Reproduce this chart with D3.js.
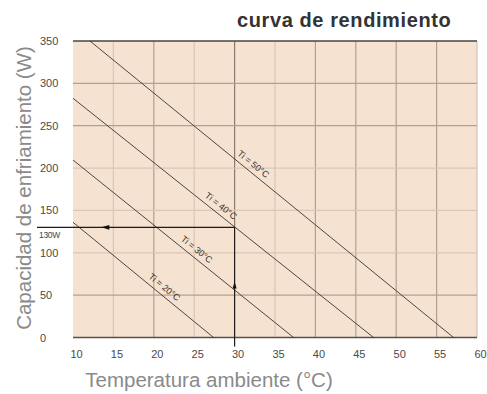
<!DOCTYPE html>
<html>
<head>
<meta charset="utf-8">
<script src="https://cdn.jsdelivr.net/npm/d3@7"></script>
<style>
  html, body { margin: 0; padding: 0; background: #ffffff; }
  svg { display: block; font-family: "Liberation Sans", Arial, sans-serif; }
</style>
</head>
<body>
<svg id="chart" width="487" height="394"></svg>
<script>
// Performance curves: cooling capacity vs. ambient temperature for each internal temperature Ti
const seriesNames = ["Ti = 20°C", "Ti = 30°C", "Ti = 40°C", "Ti = 50°C"];
const startTemp  = [10, 10, 10, 12.1];        // °C where each curve enters the chart
const startPower = [136, 209.5, 282.4, 350];  // W at that temperature
const endTemp    = [27.4, 37.3, 47.2, 57.1];  // °C where capacity reaches 0 W
const endPower   = [0, 0, 0, 0];

// Worked example: 30 °C ambient on the Ti = 40 °C curve
const exampleTemp = 30;
const examplePower = 130;
const exampleLabel = "130W";

const xTicks = [10, 15, 20, 25, 30, 35, 40, 45, 50, 55, 60];
const yTicks = [0, 50, 100, 150, 200, 250, 300, 350];

const titleText = "curva de rendimiento";
const xTitle = "Temperatura ambiente (°C)";
const yTitle = "Capacidad de enfriamiento (W)";

const svg = d3.select("#chart");
const x = d3.scaleLinear().domain([10, 60]).range([73, 477]);
const y = d3.scaleLinear().domain([0, 350]).range([337.5, 41]);

// plot background
svg.append("rect")
  .attr("x", x(10)).attr("y", y(350))
  .attr("width", x(60) - x(10)).attr("height", y(0) - y(350))
  .attr("fill", "#f6e2d1");

// grid
const lightX = new Set([15, 25, 35]);
const lightY = new Set([100, 150, 200]);
svg.append("g").selectAll("line").data(xTicks.filter(t => t > 10 && t < 60 && t !== exampleTemp)).join("line")
  .attr("x1", d => x(d)).attr("x2", d => x(d))
  .attr("y1", y(350)).attr("y2", y(0))
  .attr("stroke", d => lightX.has(d) ? "#dcc6b4" : "#b5a08e")
  .attr("stroke-width", 1.2);
svg.append("line")
  .attr("x1", x(60)).attr("x2", x(60)).attr("y1", y(350)).attr("y2", y(0))
  .attr("stroke", "#d8c3b1").attr("stroke-width", 1.2);
svg.append("line")
  .attr("x1", x(exampleTemp)).attr("x2", x(exampleTemp)).attr("y1", y(350)).attr("y2", y(examplePower))
  .attr("stroke", "#8c7a6c").attr("stroke-width", 1.2);
svg.append("g").selectAll("line").data(yTicks.filter(t => t > 0 && t < 350)).join("line")
  .attr("x1", x(10)).attr("x2", x(60))
  .attr("y1", d => y(d)).attr("y2", d => y(d))
  .attr("stroke", d => lightY.has(d) ? "#dcc6b4" : "#b5a08e")
  .attr("stroke-width", 1.2);

// top and bottom frame
svg.append("line").attr("x1", x(10)).attr("x2", x(60)).attr("y1", y(350)).attr("y2", y(350))
  .attr("stroke", "#4a4440").attr("stroke-width", 1.4);
svg.append("line").attr("x1", x(10)).attr("x2", x(60)).attr("y1", y(0)).attr("y2", y(0))
  .attr("stroke", "#5a504a").attr("stroke-width", 1.4);

// curves
const curves = seriesNames.map((name, i) => ({
  name,
  pts: [[startTemp[i], startPower[i]], [endTemp[i], endPower[i]]]
}));
const line = d3.line().x(d => x(d[0])).y(d => y(d[1]));
svg.append("g").selectAll("path").data(curves).join("path")
  .attr("d", d => line(d.pts))
  .attr("fill", "none").attr("stroke", "#3a3430").attr("stroke-width", 0.9);

// curve labels, set along each line and lifted slightly above it
const labelAlong = [20.7, 24.7, 27.7, 31.7];
svg.append("g").selectAll("text").data(curves).join("text")
  .attr("transform", (d, i) => {
    const [[t0, p0], [t1, p1]] = d.pts;
    const dx = x(t1) - x(t0), dy = y(p1) - y(p0);
    const len = Math.hypot(dx, dy);
    const f = (labelAlong[i] - t0) / (t1 - t0);
    const cx = x(t0) + f * dx + 8 * dy / len;
    const cy = y(p0) + f * dy - 8 * dx / len;
    const ang = Math.atan2(dy, dx) * 180 / Math.PI;
    return `translate(${cx},${cy}) rotate(${ang})`;
  })
  .attr("text-anchor", "middle").attr("dy", "0.35em")
  .attr("font-size", 9).attr("fill", "#3a3430")
  .text(d => d.name);

// worked example: horizontal read-out to the axis and vertical line from 30 °C
svg.append("line")
  .attr("x1", x(exampleTemp)).attr("x2", 37)
  .attr("y1", y(examplePower)).attr("y2", y(examplePower))
  .attr("stroke", "#1e1a18").attr("stroke-width", 1.2);
svg.append("line")
  .attr("x1", x(exampleTemp)).attr("x2", x(exampleTemp))
  .attr("y1", y(examplePower)).attr("y2", y(0) + 9)
  .attr("stroke", "#1e1a18").attr("stroke-width", 1.2);
// arrowheads
const ax = x(14), ay = y(examplePower);
svg.append("path").attr("d", `M${ax - 4},${ay} L${ax + 4},${ay - 2.4} L${ax + 4},${ay + 2.4} Z`).attr("fill", "#111");
const ux = x(exampleTemp), uy = y(62);
svg.append("path").attr("d", `M${ux},${uy - 3.5} L${ux - 2},${uy + 3.5} L${ux + 2},${uy + 3.5} Z`).attr("fill", "#111");

svg.append("text").attr("x", 39).attr("y", y(examplePower) + 10.5)
  .attr("font-size", 8.5).attr("fill", "#444").attr("letter-spacing", -0.3)
  .text(exampleLabel);

// axes (labels only)
const xAxis = svg.append("g").attr("transform", `translate(0,${y(0)})`)
  .call(d3.axisBottom(x).tickValues(xTicks).tickSize(0).tickPadding(13));
xAxis.select(".domain").remove();
xAxis.selectAll("text").attr("x", 3).attr("font-size", 11).attr("fill", "#4a4a4a")
  .attr("font-family", "Liberation Sans, Arial, sans-serif");

const yAxis = svg.append("g").attr("transform", `translate(${x(10)},0)`)
  .call(d3.axisLeft(y).tickValues(yTicks).tickSize(0));
yAxis.select(".domain").remove();
yAxis.selectAll("text").attr("x", 40 - x(10)).attr("text-anchor", "start")
  .attr("font-size", 11).attr("fill", "#4a4a4a")
  .attr("font-family", "Liberation Sans, Arial, sans-serif");

// titles
svg.append("text").attr("x", 237).attr("y", 27)
  .attr("font-size", 20).attr("font-weight", "bold").attr("fill", "#333")
  .attr("letter-spacing", 0.6)
  .text(titleText);
svg.append("text").attr("x", 209).attr("y", 387)
  .attr("text-anchor", "middle").attr("font-size", 20.5).attr("fill", "#8a8a8a")
  .text(xTitle);
svg.append("text").attr("transform", `translate(31,188) rotate(-90)`)
  .attr("text-anchor", "middle").attr("font-size", 20.5).attr("fill", "#8a8a8a")
  .text(yTitle);
</script>
</body>
</html>
